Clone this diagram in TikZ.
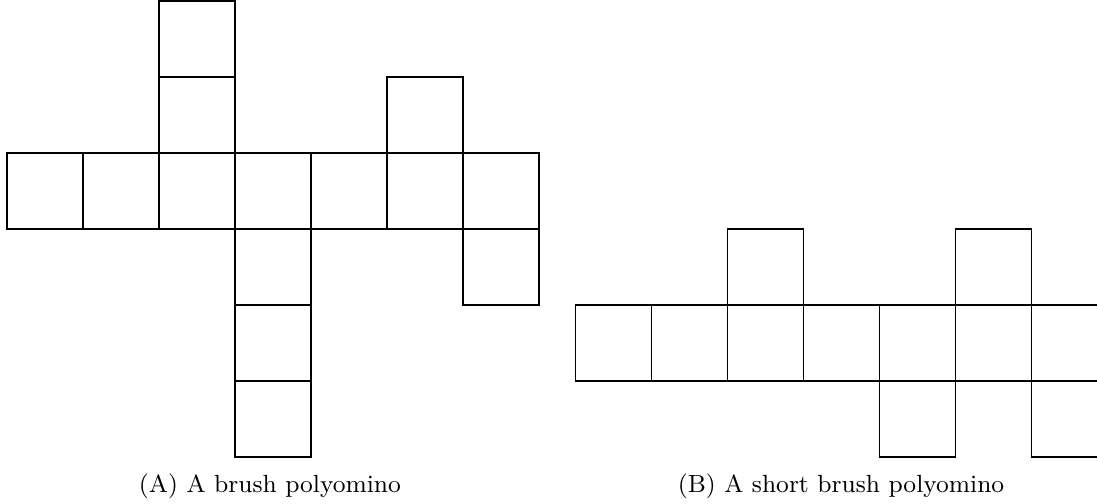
\documentclass[tikz,border=0pt]{standalone}
\usepackage{amsmath}
\usepackage{amssymb}
\usepackage{tikz}

\begin{document}
\begin{tikzpicture}[cell/.style={draw, line width=0.4pt},
        caption/.style={font=\fontsize{9.3}{11}\selectfont}]
        \useasboundingbox (-0.092,-0.618) rectangle (14.342,6.013);
        % brush polyomino
        \foreach \x/\y in {0/3,1/3,2/3,3/3,4/3,5/3,6/3,2/4,2/5,5/4,3/2,3/1,3/0,6/2}
          \draw[cell] (\x,\y) rectangle ++(1,1);
        % short brush polyomino
        \begin{scope}[xshift=7.474cm]
          \foreach \x/\y in {0/1,1/1,2/1,3/1,4/1,5/1,6/1,2/2,5/2,4/0,6/0}
            \draw[cell] (\x,\y) rectangle ++(1,1);
        \end{scope}
        \node[caption] (capA) at (3.46,-0.38) {(A) A brush polyomino};
        \node[caption] (capB) at (10.974,-0.38) {(B) A short brush polyomino};
        \end{tikzpicture}
\end{document}
